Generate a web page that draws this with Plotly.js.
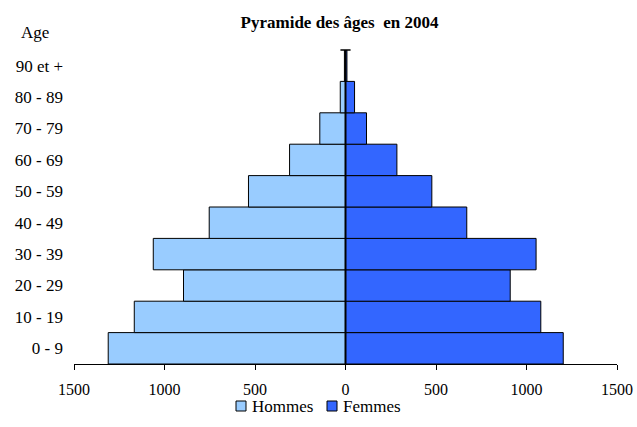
<!DOCTYPE html>
<html>
<head>
<meta charset="utf-8">
<script src="https://cdn.plot.ly/plotly-3.0.1.min.js"></script>
<style>html,body{margin:0;padding:0;background:#fff;}#chart{width:637px;height:427px;}</style>
</head>
<body>
<div id="chart"></div>
<script>
const ageGroups = ["0 - 9", "10 - 19", "20 - 29", "30 - 39", "40 - 49", "50 - 59", "60 - 69", "70 - 79", "80 - 89", "90 et +"];
const hommes = [1311, 1167, 895, 1062, 753, 536, 309, 142, 29, 6];
const femmes = [1203, 1079, 910, 1053, 670, 477, 284, 116, 50, 8];
const tickVals = [-1500, -1000, -500, 0, 500, 1000, 1500];
const tickLabels = ["1500", "1000", "500", "0", "500", "1000", "1500"];
const seriesNames = ["Hommes", "Femmes"];
const seriesColors = ["#99CCFF", "#3366FF"];

const FONT = "Liberation Serif, Times New Roman, serif";

const traces = [
  {
    type: "bar", orientation: "h", name: seriesNames[0],
    y: ageGroups, x: hommes.map(v => -v),
    marker: {color: seriesColors[0], line: {color: "#000", width: 1}},
    hoverinfo: "skip"
  },
  {
    type: "bar", orientation: "h", name: seriesNames[1],
    y: ageGroups, x: femmes,
    marker: {color: seriesColors[1], line: {color: "#000", width: 1}},
    hoverinfo: "skip"
  }
];

// plot area in pixels: x 74..617, y 50..364
const PL = 74, PW = 543, PT = 50, PH = 314;
const px = v => (v - PL) / PW;
const py = v => (PT + PH - v) / PH;

const legendItems = [
  {sq: 236, tx: 250},
  {sq: 327, tx: 341}
];
const legendY = 406;

const shapes = [
  {type: "line", xref: "x", yref: "paper", x0: 0, x1: 0, y0: 0, y1: 1, line: {color: "#000", width: 2}, layer: "above"},
  {type: "line", xref: "x", yref: "paper", x0: -28, x1: 28, y0: 1, y1: 1, line: {color: "#000", width: 1.5}, layer: "above"}
];
const annotations = [
  {text: "Age", xref: "paper", yref: "paper", x: px(35), y: py(32), xanchor: "center", yanchor: "middle", showarrow: false, font: {family: FONT, size: 17, color: "#000"}}
];
legendItems.forEach((it, i) => {
  shapes.push({type: "rect", xref: "paper", yref: "paper", x0: px(it.sq), x1: px(it.sq + 10), y0: py(legendY + 5), y1: py(legendY - 5),
    fillcolor: seriesColors[i], line: {color: "#000", width: 1}});
  annotations.push({text: seriesNames[i], xref: "paper", yref: "paper", x: px(it.tx), y: py(legendY), xanchor: "left", yanchor: "middle",
    showarrow: false, font: {family: FONT, size: 17, color: "#000"}});
});

const layout = {
  width: 637, height: 427,
  margin: {l: PL, r: 637 - PL - PW, t: PT, b: 427 - PT - PH},
  paper_bgcolor: "#fff", plot_bgcolor: "#fff",
  barmode: "relative", bargap: 0,
  font: {family: FONT, size: 16, color: "#000"},
  title: {text: "<b>Pyramide des âges  en 2004</b>", font: {family: FONT, size: 17, color: "#000"}, x: 339.5 / 637, xanchor: "center", y: 1 - 22 / 427, yanchor: "middle"},
  xaxis: {
    range: [-1500, 1500], tickmode: "array", tickvals: tickVals, ticktext: tickLabels,
    showgrid: false, zeroline: false, showline: true, linecolor: "#000", linewidth: 1,
    ticks: "outside", ticklen: 5, tickcolor: "#000", ticklabelstandoff: 6,
    tickfont: {family: FONT, size: 16, color: "#000"}, fixedrange: true
  },
  yaxis: {
    type: "category", showgrid: false, zeroline: false, showline: false, ticks: "",
    ticklabelstandoff: 10, tickfont: {family: FONT, size: 17, color: "#000"}, fixedrange: true
  },
  showlegend: false,
  shapes: shapes,
  annotations: annotations
};

Plotly.newPlot("chart", traces, layout, {displayModeBar: false, staticPlot: true});
</script>
</body>
</html>
